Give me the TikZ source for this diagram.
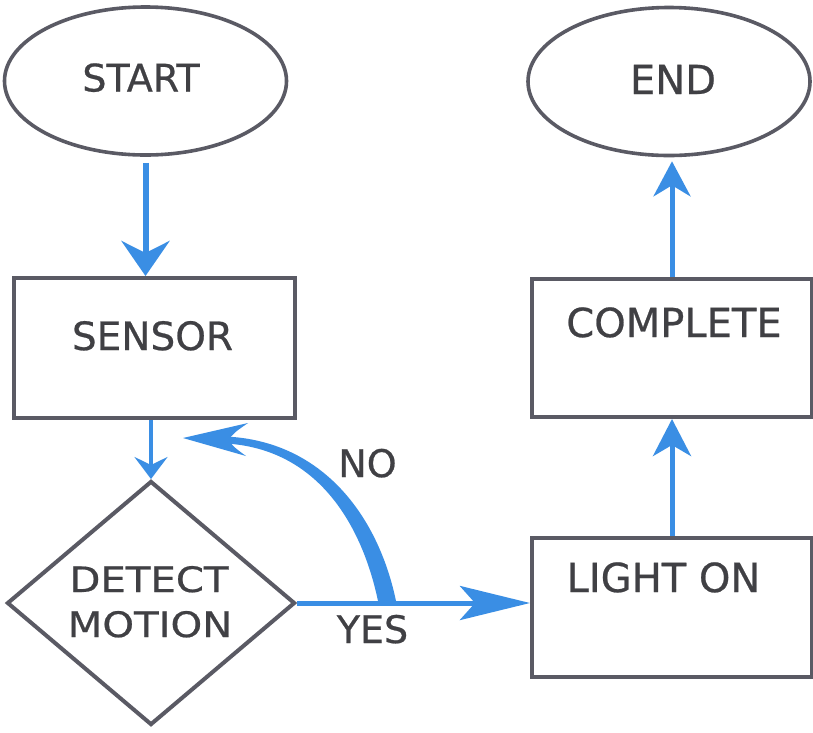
\documentclass[tikz,border=0pt]{standalone}
\usepackage{graphicx}
\usepackage{fontspec}
\setmainfont[FakeBold=0.6]{DejaVu Sans}
\usetikzlibrary{arrows.meta,shapes.geometric,calc}

\definecolor{flowblue}{RGB}{58,142,228}
\definecolor{edgegray}{RGB}{90,90,100}
\definecolor{inkgray}{RGB}{64,64,68}

\begin{document}
\begin{tikzpicture}[x=1pt,y=-1pt,
  box/.style={draw=edgegray,line width=4pt,rectangle,minimum width=280pt,minimum height=139pt,inner sep=0pt},
  oval/.style={draw=edgegray,line width=3.6pt,ellipse,minimum width=282pt,minimum height=148pt,inner sep=0pt},
  decision/.style={draw=edgegray,line width=4pt,diamond,minimum width=288pt,minimum height=244pt,inner sep=0pt},
  caption/.style={text=inkgray,inner sep=0pt,anchor=base,font=\fontsize{38}{40}\selectfont},
  flow/.style={draw=flowblue},
]
% canvas
\fill[white] (0,0) rectangle (813,732);
\useasboundingbox (0,0) rectangle (813,732);

% shapes
\node[oval] (start) at (145.5,81) {};
\node[oval] (end) at (669,81.5) {};
\node[box,minimum width=281pt,minimum height=140pt] (sensor) at (154.5,348) {};
\node[box,minimum height=138pt] (complete) at (672,348) {};
\node[box] (lighton) at (672,607.5) {};
\node[decision] (detect) at (151,603) {};

% labels
\node[caption] (startlbl) at (141,91.5) {START};
\node[caption,font=\fontsize{40}{42}\selectfont] (endlbl) at (673,94) {END};
\node[caption,font=\fontsize{39}{41}\selectfont] (sensorlbl) at (152.5,350) {SENSOR};
\node[caption,font=\fontsize{40}{42}\selectfont] (completelbl) at (674,337) {COMPLETE};
\node[caption,font=\fontsize{40}{42}\selectfont] (lightlbl) at (663.5,592) {LIGHT ON};
\node[caption,font=\fontsize{35}{37}\selectfont] (detectlbl) at (149,592) {\scalebox{1.15}[1]{DETECT}};
\node[caption,font=\fontsize{35}{37}\selectfont] (motionlbl) at (150,637) {\scalebox{1.15}[1]{MOTION}};
\node[caption] (nolbl) at (367.5,477) {NO};
\node[caption] (yeslbl) at (372.5,643) {YES};

% straight connectors
\draw[flow,line width=6pt,shorten <=6pt,-{Stealth[length=35pt,width=48pt,inset=12pt]}]
  (start.south) -- (start.south |- sensor.north);
\draw[flow,line width=4pt,-{Stealth[length=22pt,width=33pt,inset=8pt]}]
  (sensor.south -| detect.north) -- (detect.north);
\draw[flow,line width=5pt,-{Stealth[length=70pt,width=34pt,inset=15pt]}]
  (detect.east) -- (detect.east -| lighton.west);
\draw[flow,line width=5pt,-{Stealth[length=37pt,width=38pt,inset=11pt]}]
  (lighton.north) -- (complete.south);
\draw[flow,line width=5pt,shorten >=4pt,-{Stealth[length=35pt,width=37pt,inset=11pt]}]
  (complete.north) -- (complete.north |- end.south);

% tapered NO loop back toward the sensor
\coordinate (nofoot) at (387,601);
\coordinate (notip) at (183,438);
\fill[flowblue]
  ($(nofoot)+(-9,0)$) .. controls ($(nofoot)+(-25,-76)$) and ($(nofoot)+(-69,-152)$) .. ($(notip)+(43,5.5)$)
  -- ($(notip)+(43,-1.5)$) .. controls ($(nofoot)+(-65,-160)$) and ($(nofoot)+(-9,-86)$) .. ($(nofoot)+(9,0)$)
  -- cycle;
\fill[flowblue] (notip) -- ($(notip)+(65,-15)$) .. controls ($(notip)+(52,-6)$) .. ($(notip)+(45,2)$)
  .. controls ($(notip)+(52,10)$) .. ($(notip)+(63,18)$) -- cycle;
\end{tikzpicture}
\end{document}
